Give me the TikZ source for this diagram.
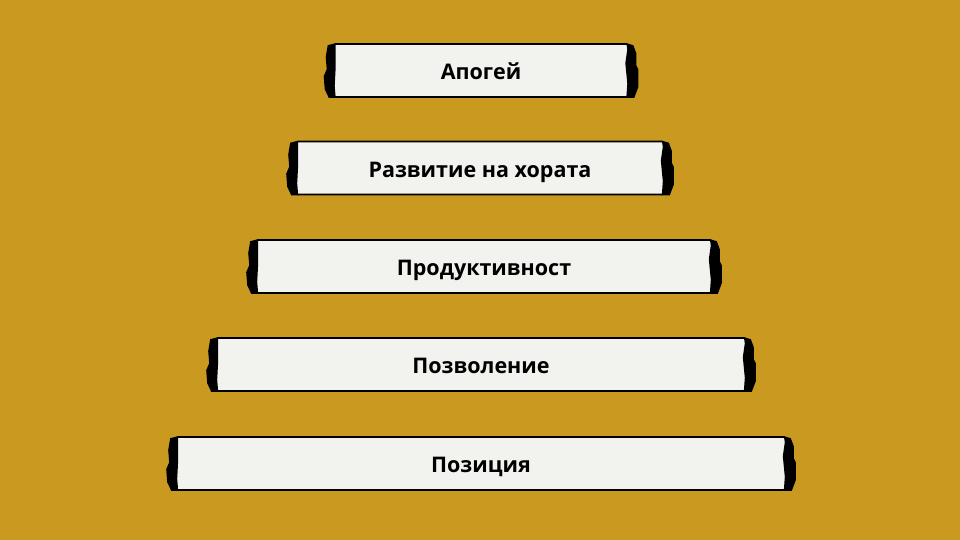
\documentclass[tikz,border=0pt]{standalone}
\usepackage{fontspec}
\setmainfont{Open Sans}
\definecolor{bg}{HTML}{C99A1F}
\definecolor{paper}{HTML}{F2F2EE}
\begin{document}
\begin{tikzpicture}[x=1pt,y=1pt,
  tier/.style={fill=paper,draw=black,line width=1.6pt,rounded corners=2pt,
    minimum height=53pt,inner sep=0pt,text height=19pt,text depth=0pt,
    font=\fontsize{21.5}{24}\selectfont\bfseries}]
\fill[bg] (0,0) rectangle (960,540);
\useasboundingbox (0,0) rectangle (960,540);
\newcommand\inkedges[1]{%
  \fill[black] ([shift={(3,0)}]#1.north west) -- ([shift={(-5,-2)}]#1.north west)
    -- ([shift={(-7,-14)}]#1.north west) -- ([shift={(-6,-26)}]#1.north west)
    -- ([shift={(-9,-33)}]#1.north west) -- ([shift={(-8,-46)}]#1.north west)
    -- ([shift={(-4,0)}]#1.south west) -- ([shift={(3,0)}]#1.south west)
    -- ([shift={(2,12)}]#1.south west) -- ([shift={(3,-24)}]#1.north west) -- cycle;
  \fill[black] ([shift={(-3,0)}]#1.north east) -- ([shift={(4,-2)}]#1.north east)
    -- ([shift={(7,-10)}]#1.north east) -- ([shift={(7,-22)}]#1.north east)
    -- ([shift={(9,-26)}]#1.north east) -- ([shift={(9,-44)}]#1.north east)
    -- ([shift={(5,0)}]#1.south east) -- ([shift={(-3,0)}]#1.south east)
    -- ([shift={(-2,14)}]#1.south east) -- ([shift={(-4,-20)}]#1.north east)
    -- ([shift={(-2,-6)}]#1.north east) -- cycle;}
\node[tier,minimum width=295pt] (t1) at (481,469.5) {Апогей};
\node[tier,minimum width=368pt] (t2) at (480,372) {Развитие на хората};
\node[tier,minimum width=456pt] (t3) at (484,273.5) {Продуктивност};
\node[tier,minimum width=530pt] (t4) at (481,175.5) {Позволение};
\node[tier,minimum width=610pt] (t5) at (481,76.5) {Позиция};
\inkedges{t1}\inkedges{t2}\inkedges{t3}\inkedges{t4}\inkedges{t5}
\end{tikzpicture}
\end{document}
